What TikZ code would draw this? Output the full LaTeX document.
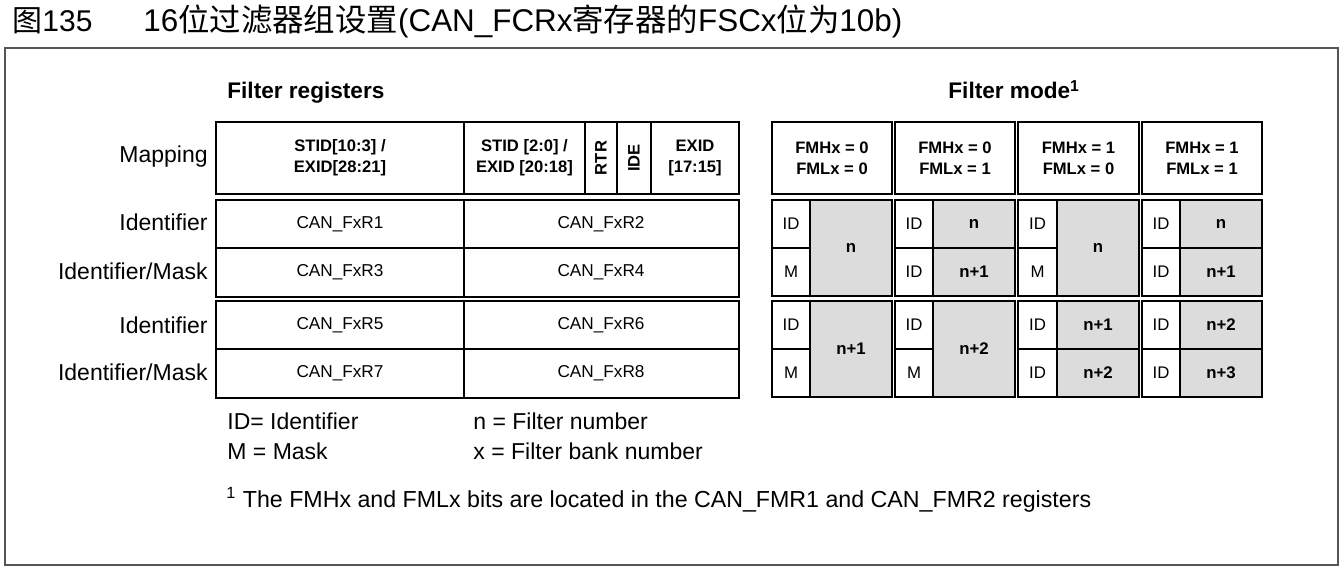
\documentclass[tikz,border=0pt]{standalone}
\usepackage{fontspec}
\setmainfont{Liberation Sans}
\newfontfamily\cjk{Noto Sans CJK SC}
\definecolor{cellgray}{HTML}{DCDCDC}
\definecolor{framegray}{HTML}{555555}
\tikzset{
  box/.style={draw=black, line width=0.9pt},
  lbl/.style={inner sep=0pt, font=\fontsize{11.5pt}{13pt}\selectfont},
  reg/.style={inner sep=0pt, font=\fontsize{8.6pt}{10pt}\selectfont},
  hdr/.style={inner sep=0pt, align=center, font=\bfseries\fontsize{8.3pt}{10.5pt}\selectfont},
  cell/.style={inner sep=0pt, font=\fontsize{8.4pt}{10pt}\selectfont},
  cellb/.style={inner sep=0pt, font=\bfseries\fontsize{8.4pt}{10pt}\selectfont},
  legend/.style={inner sep=0pt, anchor=west, font=\fontsize{11.5pt}{13pt}\selectfont},
  heading/.style={inner sep=0pt, anchor=base west, font=\bfseries\fontsize{11.3pt}{13pt}\selectfont},
}
\newcommand\mergecell[7]{%
  \fill[cellgray] (#3,#5) rectangle (#4,#6);
  \draw[box] (#2,#5) rectangle (#4,#6);
  \draw[box] (#3,#5) -- (#3,#6);
  \draw[box] (#2,{(#5+#6)/2}) -- (#3,{(#5+#6)/2});
  \node[cell] (#1a) at ({(#2+#3)/2},{(3*#5+#6)/4}) {ID};
  \node[cell] (#1b) at ({(#2+#3)/2},{(#5+3*#6)/4}) {M};
  \node[cellb] (#1n) at ({(#3+#4)/2},{(#5+#6)/2}) {#7};
}
\newcommand\splitcell[8]{%
  \fill[cellgray] (#3,#5) rectangle (#4,#6);
  \draw[box] (#2,#5) rectangle (#4,#6);
  \draw[box] (#3,#5) -- (#3,#6);
  \draw[box] (#2,{(#5+#6)/2}) -- (#4,{(#5+#6)/2});
  \node[cell] (#1a) at ({(#2+#3)/2},{(3*#5+#6)/4}) {ID};
  \node[cell] (#1b) at ({(#2+#3)/2},{(#5+3*#6)/4}) {ID};
  \node[cellb] (#1n) at ({(#3+#4)/2},{(3*#5+#6)/4}) {#7};
  \node[cellb] (#1m) at ({(#3+#4)/2},{(#5+3*#6)/4}) {#8};
}
\begin{document}
\begin{tikzpicture}[x=0.5pt,y=-0.5pt]
\useasboundingbox[fill=white] (0,0) rectangle (1344,571);
% title
\node[inner sep=0pt, anchor=west, font=\fontsize{15pt}{17pt}\selectfont] (fig) at (12,21) {{\cjk 图}135};
\node[inner sep=0pt, anchor=west, font=\fontsize{15.7pt}{17pt}\selectfont] (title) at (143,21)
  {16{\cjk 位过滤器组设置}(CAN\_FCRx{\cjk 寄存器的}FSCx{\cjk 位为}10b)};
% outer frame
\draw[draw=framegray, line width=0.8pt] (5,48) rectangle (1338,565);
% headings
\node[heading] (fr) at (227,99) {Filter registers};
\node[heading] (fm) at (948,99) {Filter mode\textsuperscript{1}};
% mapping row
\draw[box] (216,122) rectangle (739,194);
\foreach \xx in {464,585,617,651} \draw[box] (\xx,122) -- (\xx,194);
\node[hdr] (m1) at (340,158) {STID[10:3] /\\EXID[28:21]};
\node[hdr] (m2) at (524.5,158) {STID [2:0] /\\EXID [20:18]};
\node[hdr, rotate=90] (m3) at (601,158) {RTR};
\node[hdr, rotate=90] (m4) at (634,158) {IDE};
\node[hdr] (m5) at (695,158) {EXID\\\relax[17:15]};
\node[lbl, anchor=east] (lmap) at (208,157) {Mapping};
% register boxes
\draw[box] (216,200) rectangle (739,297);
\draw[box] (216,248) -- (739,248);
\draw[box] (464,200) -- (464,297);
\draw[box] (216,301) rectangle (739,398);
\draw[box] (216,349) -- (739,349);
\draw[box] (464,301) -- (464,398);
\node[reg] (r1) at (340,224) {CAN\_FxR1};
\node[reg] (r2) at (601,224) {CAN\_FxR2};
\node[reg] (r3) at (340,272) {CAN\_FxR3};
\node[reg] (r4) at (601,272) {CAN\_FxR4};
\node[reg] (r5) at (340,325) {CAN\_FxR5};
\node[reg] (r6) at (601,325) {CAN\_FxR6};
\node[reg] (r7) at (340,373) {CAN\_FxR7};
\node[reg] (r8) at (601,373) {CAN\_FxR8};
\node[lbl, anchor=east] (l1) at (208,222) {Identifier};
\node[lbl, anchor=east] (l2) at (208,271) {Identifier/Mask};
\node[lbl, anchor=east] (l3) at (208,325) {Identifier};
\node[lbl, anchor=east] (l4) at (208,372) {Identifier/Mask};
% filter mode headers
\draw[box] (772,122) rectangle (892,194);
\draw[box] (895,122) rectangle (1015,194);
\draw[box] (1018,122) rectangle (1139,194);
\draw[box] (1142,122) rectangle (1262,194);
\node[hdr] (h1) at (832,158) {FMHx = 0\\FMLx = 0};
\node[hdr] (h2) at (955,158) {FMHx = 0\\FMLx = 1};
\node[hdr] (h3) at (1078.5,158) {FMHx = 1\\FMLx = 0};
\node[hdr] (h4) at (1202,158) {FMHx = 1\\FMLx = 1};
% filter mode cells
\mergecell{aa}{772}{810}{892}{200}{296}{n}
\mergecell{ab}{772}{810}{892}{301}{397}{n+1}
\splitcell{ba}{895}{933}{1015}{200}{296}{n}{n+1}
\mergecell{bb}{895}{933}{1015}{301}{397}{n+2}
\mergecell{ca}{1018}{1057}{1139}{200}{296}{n}
\splitcell{cb}{1018}{1057}{1139}{301}{397}{n+1}{n+2}
\splitcell{da}{1142}{1180}{1262}{200}{296}{n}{n+1}
\splitcell{db}{1142}{1180}{1262}{301}{397}{n+2}{n+3}
% legend
\node[legend] (g1) at (227,421) {ID= Identifier};
\node[legend] (g2) at (227,451) {M = Mask};
\node[legend] (g3) at (473,421) {n = Filter number};
\node[legend] (g4) at (473,451) {x = Filter bank number};
\node[inner sep=0pt, anchor=west, font=\fontsize{11.6pt}{13pt}\selectfont] (fn) at (226,500)
  {\textsuperscript{1} The FMHx and FMLx bits are located in the CAN\_FMR1 and CAN\_FMR2 registers};
\end{tikzpicture}
\end{document}
